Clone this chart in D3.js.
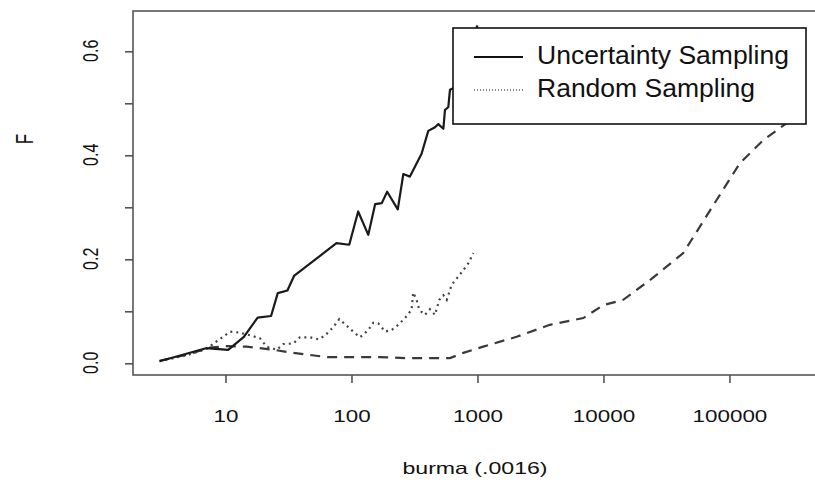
<!DOCTYPE html>
<html>
<head>
<meta charset="utf-8">
<script src="https://cdn.jsdelivr.net/npm/d3@7"></script>
<style>
  body { margin: 0; background: #fff; }
  svg { display: block; }
  text { font-family: "Liberation Sans", Arial, sans-serif; fill: #111; }
</style>
</head>
<body>
<svg width="815" height="482"></svg>
<script>
// F vs. labelled examples on burma (.0016), log x axis
const uncertaintyX = [3, 7, 10.5, 14, 18, 23, 26, 31, 35, 76, 96, 113, 136, 154, 174, 192, 233, 258, 291, 360, 407, 460, 489, 536, 552, 587, 605, 643, 720, 820, 1000];
const uncertaintyY = [0.004, 0.029, 0.026, 0.051, 0.088, 0.091, 0.135, 0.14, 0.168, 0.231, 0.228, 0.292, 0.247, 0.306, 0.308, 0.33, 0.296, 0.364, 0.359, 0.403, 0.447, 0.454, 0.46, 0.451, 0.487, 0.493, 0.526, 0.529, 0.56, 0.6, 0.65];

const randomX = [3, 5, 7, 8.5, 10.9, 13, 15.6, 18.8, 21.2, 25.5, 28.8, 34.5, 39, 47, 55, 62, 72, 80, 92, 103, 117, 136, 149, 163, 185, 208, 235, 266, 300, 309, 329, 345, 383, 420, 460, 498, 536, 570, 624, 684, 772, 845, 927];
const randomY = [0.004, 0.016, 0.027, 0.042, 0.061, 0.059, 0.054, 0.048, 0.032, 0.026, 0.037, 0.038, 0.05, 0.05, 0.046, 0.054, 0.07, 0.085, 0.072, 0.061, 0.05, 0.064, 0.078, 0.077, 0.061, 0.064, 0.074, 0.087, 0.103, 0.136, 0.122, 0.103, 0.093, 0.104, 0.093, 0.122, 0.131, 0.122, 0.151, 0.163, 0.179, 0.192, 0.212];

const dashedX = [3, 5, 7.5, 10, 14.7, 24, 34.5, 63.5, 103, 168, 274, 446, 605, 772, 1111, 2045, 3758, 6918, 9960, 14350, 23380, 42970, 79070, 121000, 185400, 284300, 400000];
const dashedY = [0.005, 0.017, 0.03, 0.033, 0.032, 0.026, 0.02, 0.012, 0.012, 0.012, 0.01, 0.01, 0.01, 0.02, 0.032, 0.051, 0.074, 0.087, 0.112, 0.122, 0.16, 0.212, 0.314, 0.385, 0.429, 0.462, 0.5];

const xTicks = [10, 100, 1000, 10000, 100000];
const yTicks = [0, 0.1, 0.2, 0.3, 0.4, 0.5, 0.6];
const yLabelled = [0, 0.2, 0.4, 0.6];
const legendNames = ["Uncertainty Sampling", "Random Sampling"];

const svg = d3.select('svg');
const plotL = 133, plotR = 830, plotT = 11, plotB = 375;
const stretch = 'scale(1.4,1)';   // the source picture is stretched sideways

const x = d3.scaleLog().domain([1.845, 628000]).range([plotL, plotR]);
const y = d3.scaleLinear().domain([-0.0225, 0.6775]).range([plotB, plotT]);

svg.append('clipPath').attr('id', 'plotclip')
  .append('rect')
  .attr('x', plotL).attr('y', plotT)
  .attr('width', plotR - plotL).attr('height', plotB - plotT);

const line = d3.line()
  .x(d => x(d[0]))
  .y(d => y(d[1]));

const plot = svg.append('g').attr('clip-path', 'url(#plotclip)');

// dashed series (not in legend)
plot.append('path')
  .attr('d', line(d3.zip(dashedX, dashedY)))
  .attr('fill', 'none')
  .attr('stroke', '#3a3a3a')
  .attr('stroke-width', 2.2)
  .attr('stroke-dasharray', '10,7');

plot.append('path')
  .attr('d', line(d3.zip(randomX, randomY)))
  .attr('fill', 'none')
  .attr('stroke', '#444')
  .attr('stroke-width', 2.2)
  .attr('stroke-dasharray', '2,4');

plot.append('path')
  .attr('d', line(d3.zip(uncertaintyX, uncertaintyY)))
  .attr('fill', 'none')
  .attr('stroke', '#1a1a1a')
  .attr('stroke-width', 2.2)
  .attr('stroke-linejoin', 'round');

// box
svg.append('rect')
  .attr('x', plotL).attr('y', plotT)
  .attr('width', plotR - plotL).attr('height', plotB - plotT)
  .attr('fill', 'none')
  .attr('stroke', '#555')
  .attr('stroke-width', 1.6);

// x axis
const xAxis = svg.append('g')
  .attr('transform', `translate(0,${plotB})`)
  .call(d3.axisBottom(x).tickValues(xTicks).tickFormat(d3.format('d')).tickSize(8).tickSizeOuter(0));
xAxis.select('.domain').remove();
xAxis.selectAll('line').attr('stroke', '#555').attr('stroke-width', 1.6);
xAxis.selectAll('text')
  .attr('y', 47).attr('dy', 0)
  .attr('transform', stretch)
  .attr('font-size', 16)
  .attr('fill', '#222');

// y axis
const yAxis = svg.append('g')
  .attr('transform', `translate(${plotL},0)`)
  .call(d3.axisLeft(y).tickValues(yTicks)
    .tickFormat(d => yLabelled.includes(d) ? d3.format('.1f')(d) : '')
    .tickSize(8).tickSizeOuter(0));
yAxis.select('.domain').remove();
yAxis.selectAll('line').attr('stroke', '#555').attr('stroke-width', 1.6);
yAxis.selectAll('text')
  .attr('x', 0).attr('y', 0).attr('dy', 0)
  .attr('text-anchor', 'middle')
  .attr('transform', `translate(-35,-1) ${stretch} rotate(-90)`)
  .attr('font-size', 16)
  .attr('fill', '#222');

// axis titles
svg.append('text')
  .attr('transform', `translate(475,474) ${stretch}`)
  .attr('text-anchor', 'middle')
  .attr('font-size', 16.5)
  .attr('fill', '#222')
  .text('burma (.0016)');

svg.append('text')
  .attr('transform', `translate(33,139) ${stretch} rotate(-90)`)
  .attr('text-anchor', 'middle')
  .attr('font-size', 17)
  .text('F');

// legend
const legend = svg.append('g');
legend.append('rect')
  .attr('x', 453).attr('y', 28)
  .attr('width', 353).attr('height', 96)
  .attr('fill', '#fff')
  .attr('stroke', '#111')
  .attr('stroke-width', 1.6);

const dashes = ['none', '1,2'];
const rows = legend.selectAll('.row')
  .data(legendNames)
  .enter()
  .append('g')
  .attr('transform', (d, i) => `translate(0,${i * 33})`);

rows.append('line')
  .attr('x1', 474).attr('x2', 523)
  .attr('y1', 57).attr('y2', 57)
  .attr('stroke', '#111')
  .attr('stroke-width', (d, i) => i === 0 ? 2 : 1.2)
  .attr('stroke-dasharray', (d, i) => dashes[i]);

rows.append('text')
  .attr('x', 537).attr('y', 64)
  .attr('font-size', 26.5)
  .text(d => d);
</script>
</body>
</html>
